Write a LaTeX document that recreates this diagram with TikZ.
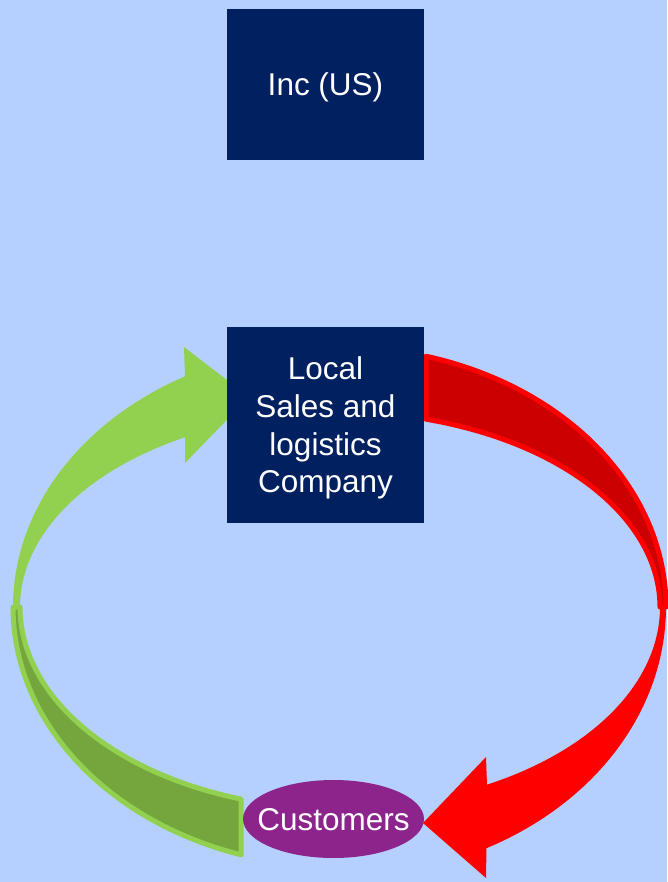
\documentclass[tikz,border=0pt]{standalone}
\usepackage{fontspec}
\setmainfont{Liberation Sans}
\usetikzlibrary{shapes.geometric}
\definecolor{bgblue}{RGB}{181,208,255}
\definecolor{navy}{RGB}{0,32,96}
\definecolor{lgreen}{RGB}{146,208,80}
\definecolor{dgreen}{RGB}{117,166,62}
\definecolor{bred}{RGB}{255,0,0}
\definecolor{dred}{RGB}{204,0,0}
\definecolor{purp}{RGB}{140,36,140}
\tikzset{
  navybox/.style={fill=navy, text=white, inner sep=0pt, minimum width=197pt,
    align=center, text depth=0pt, font=\fontsize{31.5}{37.7}\selectfont},
  custell/.style={ellipse, fill=purp, text=white, inner sep=0pt, minimum width=181pt,
    minimum height=78pt, text height=22.5pt, text depth=0pt,
    font=\fontsize{31.5}{37.7}\selectfont},
  backband/.style={line width=5pt, line join=round},
}
\begin{document}
\begin{tikzpicture}[x=1pt,y=-1pt]
\useasboundingbox (0,0) rectangle (667,882);
\fill[bgblue] (0,0) rectangle (667,882);
% green arrow, back (lower) part
\filldraw[backband, fill=dgreen, draw=lgreen]
  plot[domain=180:252.38,samples=60] ({340+327*cos(\x)},{607-260*sin(\x)})
  -- plot[domain=252.0:180,samples=60] ({340+320*cos(\x)},{607-202*sin(\x)}) -- cycle;
% green arrow, front (upper) part with head
\fill[lgreen]
  plot[domain=180:118.3,samples=60] ({340+327*cos(\x)},{607-262*sin(\x)})
  -- (184,347) -- (249,397) -- (185,463)
  -- plot[domain=118.97:180,samples=60] ({340+320*cos(\x)},{607-194*sin(\x)}) -- cycle;
% red arrow, back (upper) part
\filldraw[backband, fill=dred, draw=bred]
  plot[domain=74.7:0,samples=60] ({340+326*cos(\x)},{607-260*sin(\x)})
  -- plot[domain=0:74.41,samples=60] ({340+320*cos(\x)},{607-195*sin(\x)}) -- cycle;
% red arrow, front (lower) part with head
\fill[bred]
  plot[domain=0:-63.3,samples=60] ({340+326*cos(\x)},{607-270*sin(\x)})
  -- (486,878) -- (423,823) -- (486,757)
  -- plot[domain=-62.66:0,samples=60] ({340+320*cos(\x)},{607-200*sin(\x)}) -- cycle;
% nodes
\node[navybox, minimum height=151pt, text height=22.5pt] (inc) at (325.5,84.5) {Inc (US)};
\node[navybox, minimum height=196pt] (local) at (325.5,425) {Local\\Sales and\\logistics\\Company};
\node[custell] (cust) at (333.5,819) {\makebox[0pt]{Customers}};
\end{tikzpicture}
\end{document}
